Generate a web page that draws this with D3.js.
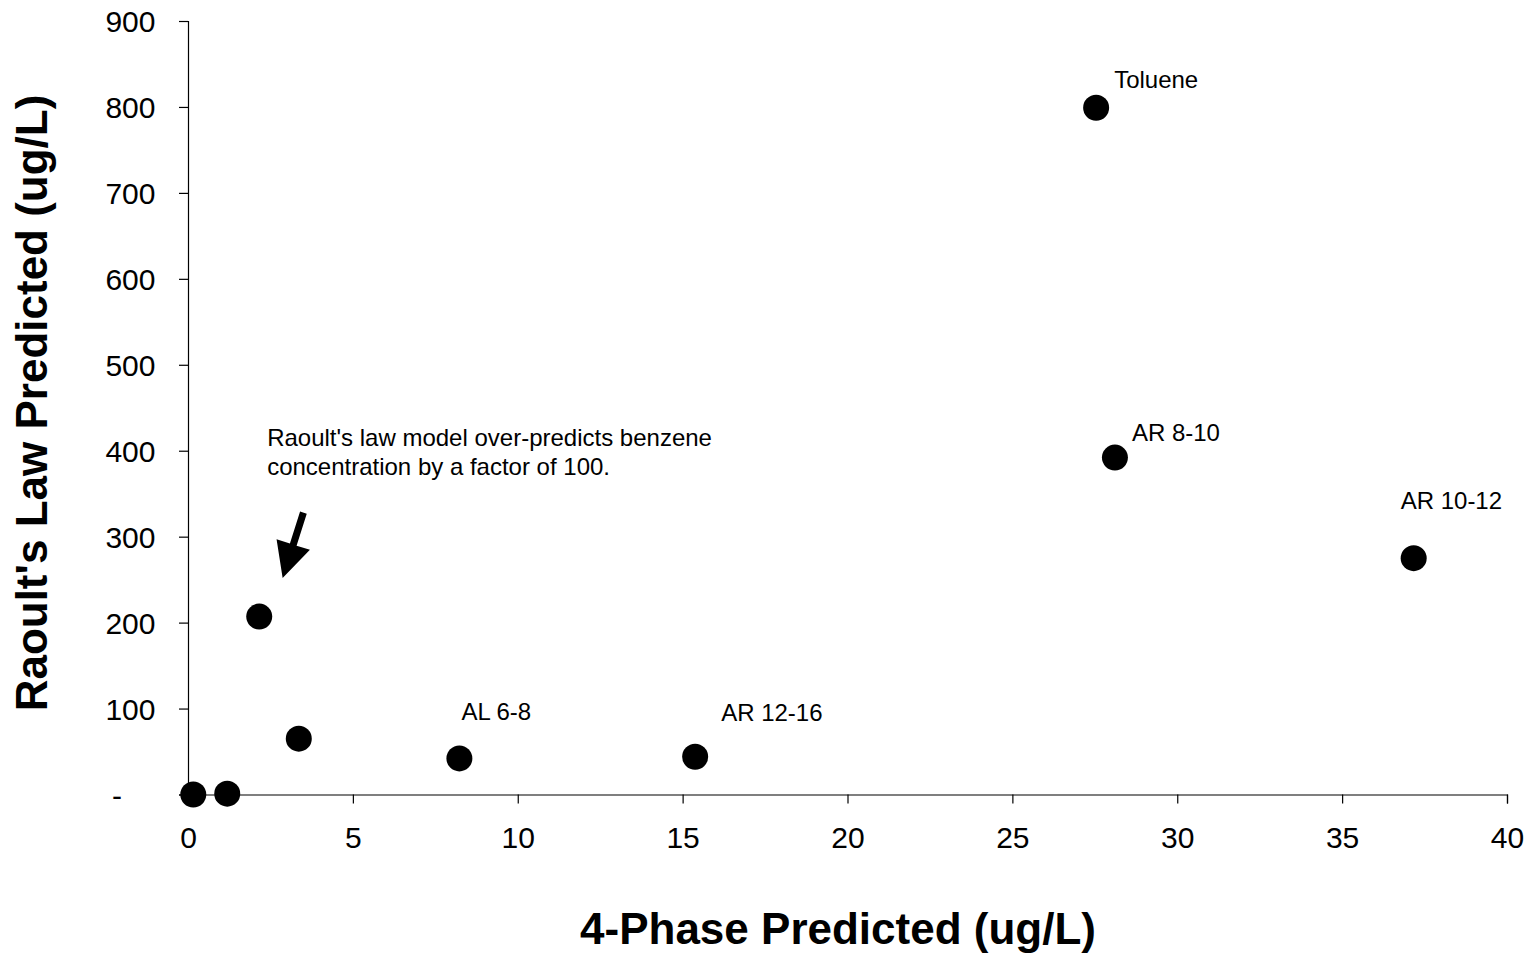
<!DOCTYPE html>
<html>
<head>
<meta charset="utf-8">
<script src="https://cdn.jsdelivr.net/npm/d3@7"></script>
<style>
  html, body { margin: 0; padding: 0; background: #fff; }
  svg { display: block; font-family: Arial, "Liberation Sans", sans-serif; }
</style>
</head>
<body>
<svg id="chart" width="1534" height="954"></svg>
<script>
// Predicted dissolved concentrations (ug/L) for each fraction
const fourPhase = [0.16, 1.19, 2.16, 3.36, 8.23, 15.38, 27.54, 28.11, 37.17];
const raoult    = [0, 1, 207, 65, 42, 44, 799, 392, 275];
const pointNames = ["", "", "", "", "AL 6-8", "AR 12-16", "Toluene", "AR 8-10", "AR 10-12"];

const xTicks = [0, 5, 10, 15, 20, 25, 30, 35, 40];
const yTicks = [0, 100, 200, 300, 400, 500, 600, 700, 800, 900];

const noteLines = ["Raoult's law model over-predicts benzene", "concentration by a factor of 100."];
const noteAnchor = [2.4, 405];          // data position of the note's first baseline
const arrowFrom = [3.5, 328];           // arrow tail (data units)
const arrowTo = [2.87, 252];            // arrow tip (data units)

// label placement relative to its dot (px)
const labelOffset = {
  "AL 6-8":  [2, -38],
  "AR 12-16": [26, -36],
  "Toluene": [18, -20],
  "AR 8-10": [17, -17],
  "AR 10-12": [-13, -49]
};

const svg = d3.select("#chart");
const plotLeft = 188, plotRight = 1507, plotTop = 21, plotBottom = 794.5;

const x = d3.scaleLinear().domain([0, 40]).range([plotLeft, plotRight]);
const y = d3.scaleLinear().domain([0, 900]).range([plotBottom, plotTop]);

svg.append("rect").attr("width", 1534).attr("height", 954).attr("fill", "#fff");

// x axis
const gx = svg.append("g")
  .attr("transform", `translate(0,${plotBottom})`)
  .call(d3.axisBottom(x).tickValues(xTicks).tickSize(9).tickPadding(23.5).tickFormat(d3.format("d")));
gx.selectAll("text").attr("font-size", 30).attr("fill", "#000").attr("font-family", "Arial, 'Liberation Sans', sans-serif");

// y axis
const gy = svg.append("g")
  .attr("transform", `translate(${plotLeft},0)`)
  .call(d3.axisLeft(y).tickValues(yTicks).tickSize(9).tickPadding(23.5)
    .tickFormat(d => d === 0 ? "-" : d3.format("d")(d)));
gy.selectAll("text").attr("font-size", 30).attr("fill", "#000").attr("dy", "0.36em")
  .attr("font-family", "Arial, 'Liberation Sans', sans-serif");
gy.selectAll(".tick").filter(d => d === 0).select("text").attr("x", -66);

[gx, gy].forEach(g => {
  g.select(".domain").attr("stroke", "#000").attr("stroke-width", 1.2);
  g.selectAll(".tick line").attr("stroke", "#000").attr("stroke-width", 1.2);
});

// axis titles
svg.append("text")
  .attr("x", 838).attr("y", 944)
  .attr("text-anchor", "middle")
  .attr("font-size", 44).attr("font-weight", "bold")
  .text("4-Phase Predicted (ug/L)");

svg.append("text")
  .attr("transform", "translate(47,403) rotate(-90)")
  .attr("text-anchor", "middle")
  .attr("font-size", 44).attr("font-weight", "bold")
  .text("Raoult's Law Predicted (ug/L)");

// points
const pts = fourPhase.map((v, i) => ({ x: v, y: raoult[i], name: pointNames[i] }));

svg.append("g").selectAll("circle")
  .data(pts).join("circle")
  .attr("cx", d => x(d.x)).attr("cy", d => y(d.y))
  .attr("r", 13).attr("fill", "#000");

svg.append("g").selectAll("text")
  .data(pts.filter(d => d.name)).join("text")
  .attr("x", d => x(d.x) + labelOffset[d.name][0])
  .attr("y", d => y(d.y) + labelOffset[d.name][1])
  .attr("font-size", 24).attr("fill", "#000")
  .text(d => d.name);

// annotation
const note = svg.append("text")
  .attr("x", x(noteAnchor[0])).attr("y", y(noteAnchor[1]))
  .attr("font-size", 24).attr("fill", "#000");
noteLines.forEach((t, i) => {
  note.append("tspan").attr("x", x(noteAnchor[0])).attr("dy", i === 0 ? 0 : 29).text(t);
});

// arrow
(function drawArrow() {
  const x0 = x(arrowFrom[0]), y0 = y(arrowFrom[1]);
  const x1 = x(arrowTo[0]), y1 = y(arrowTo[1]);
  const len = Math.hypot(x1 - x0, y1 - y0);
  const ux = (x1 - x0) / len, uy = (y1 - y0) / len;
  const nx = -uy, ny = ux;
  const headLen = 35, headHalf = 17.5, shaftHalf = 3.5;
  const bx = x1 - ux * headLen, by = y1 - uy * headLen;
  const p = [
    [x0 + nx * shaftHalf, y0 + ny * shaftHalf],
    [bx + nx * shaftHalf, by + ny * shaftHalf],
    [bx + nx * headHalf, by + ny * headHalf],
    [x1, y1],
    [bx - nx * headHalf, by - ny * headHalf],
    [bx - nx * shaftHalf, by - ny * shaftHalf],
    [x0 - nx * shaftHalf, y0 - ny * shaftHalf]
  ];
  svg.append("path")
    .attr("d", d3.line()(p) + "Z")
    .attr("fill", "#000");
})();
</script>
</body>
</html>
